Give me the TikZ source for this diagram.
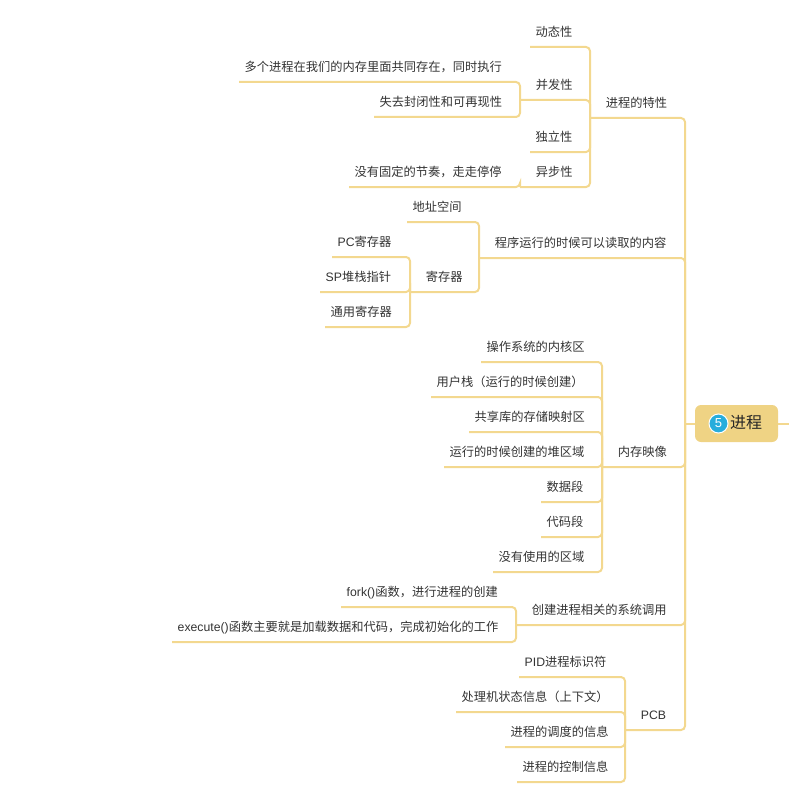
\documentclass[tikz,border=0pt]{standalone}
\usepackage{fontspec}
\setmainfont{Noto Sans CJK SC}
\newfontfamily\latin{Liberation Sans}
\definecolor{branchline}{HTML}{F3D88F}
\definecolor{rootfill}{HTML}{EFD384}
\definecolor{badgefill}{HTML}{27ADDC}
\definecolor{labeltext}{HTML}{333333}
\tikzset{
  topic/.style={anchor=south west, inner ysep=0pt, inner xsep=5.5pt, minimum height=26pt, text height=9pt, text depth=3pt, font=\fontsize{12.25pt}{12.25pt}\selectfont, text=labeltext},
  parenttopic/.style={topic, inner xsep=15.7pt},
  branch/.style={draw=branchline, line width=2pt, rounded corners=4pt}
}

\begin{document}
\begin{tikzpicture}[x=1pt,y=-1pt]
  \useasboundingbox (0,0) rectangle (789,789);
  \node[fill=rootfill, rounded corners=6pt, minimum width=83pt, minimum height=37pt, inner sep=0pt] (root) at (736.5,423.5) {};
  \node[circle, fill=badgefill, draw=white, line width=1pt, minimum size=19pt, inner sep=0pt, text=white, font=\latin\fontsize{13pt}{13pt}\selectfont] (badge) at (718.5,423.5) {5};
  \node[inner sep=0pt, font=\fontsize{16pt}{16pt}\selectfont, text=black!85] (rootlabel) at (746,422.5) {进程};
  \coordinate (maintrunk) at (685,423.5);
  \coordinate (rootout) at (789,423.5);

  \foreach \nm/\x/\y/\txt in {
      tezheng/590/118/进程的特性, neirong/479/258/程序运行的时候可以读取的内容, yingxiang/602/467/内存映像,
      xitong/516/625/创建进程相关的系统调用, pcb/625/730/{\latin PCB},
      bingfa/520/100/并发性, yibu/520/187/异步性, jicun/410/292/寄存器} {
    \node[parenttopic] (\nm) at (\x,\y) {\txt};
  }
  \foreach \nm/\x/\y/\txt in {
      dongtai/530/47/动态性, duli/530/152/独立性,
      gongcun/239/82/多个进程在我们的内存里面共同存在，同时执行, fengbi/374/117/失去封闭性和可再现性,
      jiezou/349/187/没有固定的节奏，走走停停,
      dizhi/407/222/地址空间,
      pcreg/332/257/{\latin PC}寄存器, spreg/320/292/{\latin SP}堆栈指针, tongyong/325/327/通用寄存器,
      neihe/481/362/操作系统的内核区, yonghu/431/397/用户栈（运行的时候创建）, gongxiang/469/432/共享库的存储映射区,
      duiqu/444/467/运行的时候创建的堆区域, shuju/541/502/数据段, daima/541/537/代码段, weiyong/493/572/没有使用的区域,
      fork/341/607/{\latin fork()}函数，进行进程的创建, execute/172/642/{\latin execute()}函数主要就是加载数据和代码，完成初始化的工作,
      pid/519/677/{\latin PID}进程标识符, chuliji/456/712/处理机状态信息（上下文）, diaodu/505/747/进程的调度的信息, kongzhi/517/782/进程的控制信息} {
    \node[topic] (\nm) at (\x,\y) {\txt};
  }

  \foreach \a/\b in {
      tezheng/maintrunk, neirong/maintrunk, yingxiang/maintrunk, xitong/maintrunk, pcb/maintrunk,
      dongtai/tezheng.south west, bingfa/tezheng.south west, duli/tezheng.south west, yibu/tezheng.south west,
      gongcun/bingfa.south west, fengbi/bingfa.south west, jiezou/yibu.south west,
      dizhi/neirong.south west, jicun/neirong.south west,
      pcreg/jicun.south west, spreg/jicun.south west, tongyong/jicun.south west,
      neihe/yingxiang.south west, yonghu/yingxiang.south west, gongxiang/yingxiang.south west, duiqu/yingxiang.south west,
      shuju/yingxiang.south west, daima/yingxiang.south west, weiyong/yingxiang.south west,
      fork/xitong.south west, execute/xitong.south west,
      pid/pcb.south west, chuliji/pcb.south west, diaodu/pcb.south west, kongzhi/pcb.south west} {
    \draw[branch] (\a.south west) -| (\b);
  }
  \draw[branch] (maintrunk) -- (root.west);
  \draw[branch] (root.east) -- (rootout);
\end{tikzpicture}
\end{document}
